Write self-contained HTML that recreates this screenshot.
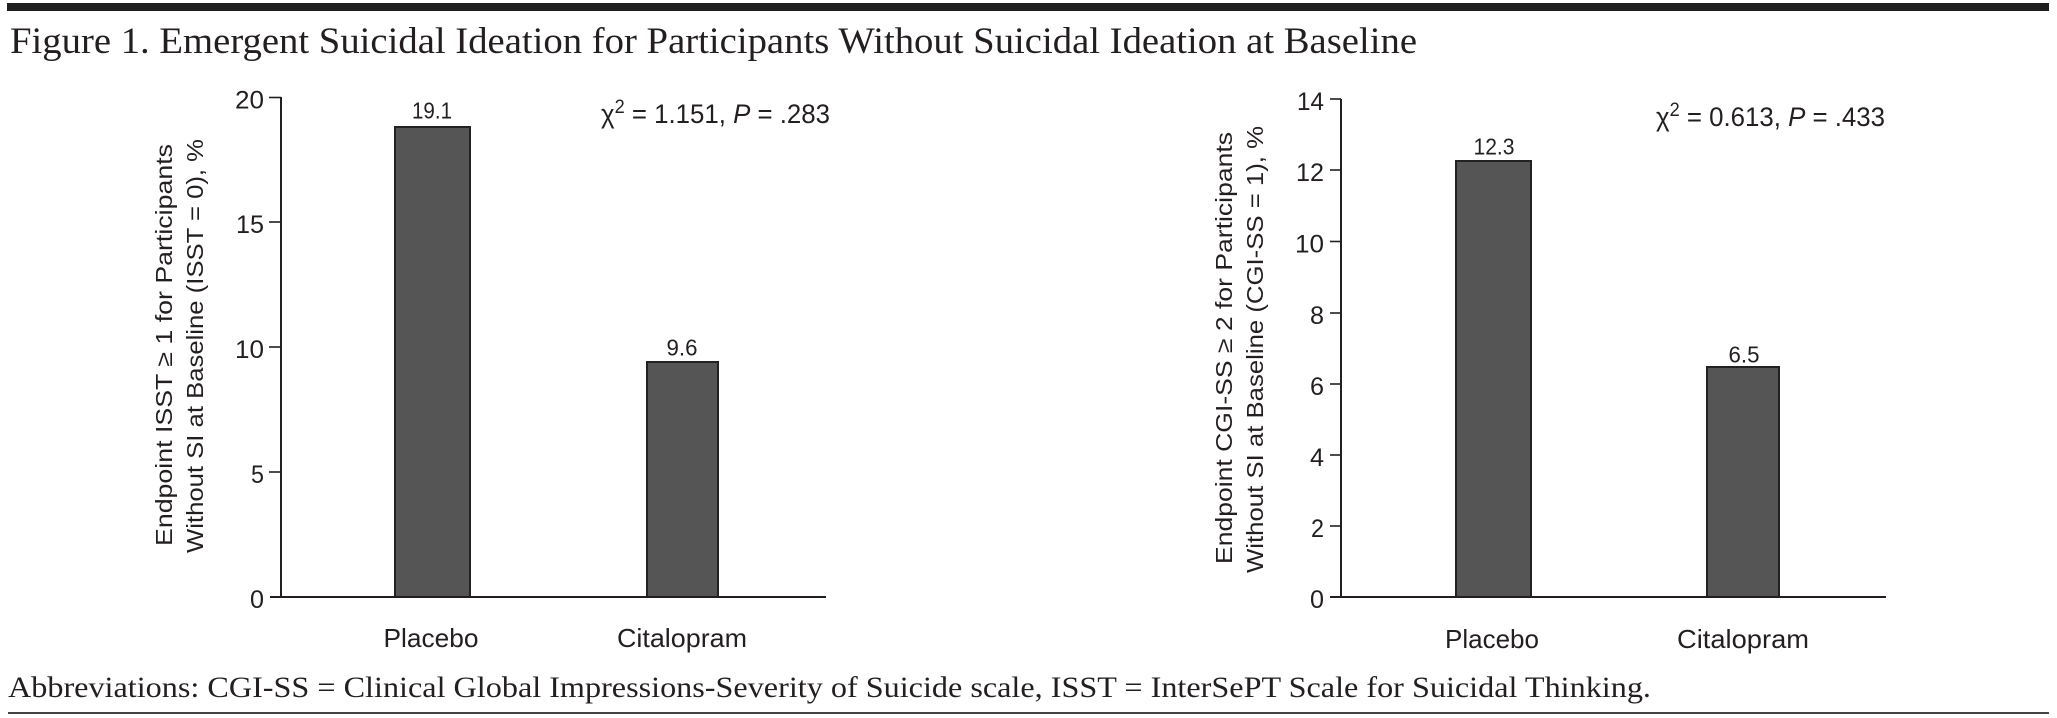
<!DOCTYPE html>
<html>
<head>
<meta charset="utf-8">
<style>
  html, body { margin:0; padding:0; background:#fff; }
  body { width:2057px; height:718px; overflow:hidden; }
  svg { display:block; }
  .serif { font-family:"Liberation Serif", serif; fill:#231f20; }
  .sans { font-family:"Liberation Sans", sans-serif; fill:#231f20; }
</style>
</head>
<body>
<svg width="2057" height="718" viewBox="0 0 2057 718" xmlns="http://www.w3.org/2000/svg">
  <rect x="0" y="0" width="2057" height="718" fill="#fff"/>
  <rect x="7" y="3" width="2042" height="8" fill="#1e1e1e"/>
  <text class="serif" x="10" y="53" font-size="37" textLength="1407" lengthAdjust="spacingAndGlyphs">Figure 1. Emergent Suicidal Ideation for Participants Without Suicidal Ideation at Baseline</text>

  <!-- ============ LEFT CHART ============ -->
  <g>
    <rect x="395" y="127" width="75" height="470" fill="#555555" stroke="#222" stroke-width="2"/>
    <rect x="647" y="362" width="71" height="235" fill="#555555" stroke="#222" stroke-width="2"/>
    <line x1="281" y1="97" x2="281" y2="598" stroke="#231f20" stroke-width="2"/>
    <line x1="270" y1="597" x2="826" y2="597" stroke="#231f20" stroke-width="2"/>
    <g stroke="#231f20" stroke-width="1.6">
      <line x1="269" y1="97.5" x2="281" y2="97.5"/>
      <line x1="269" y1="222" x2="281" y2="222"/>
      <line x1="269" y1="347" x2="281" y2="347"/>
      <line x1="269" y1="472" x2="281" y2="472"/>
    </g>
    <g class="sans" font-size="25" text-anchor="end">
      <text x="264" y="108.5" textLength="29" lengthAdjust="spacingAndGlyphs">20</text>
      <text x="264" y="233" textLength="28" lengthAdjust="spacingAndGlyphs">15</text>
      <text x="264" y="358" textLength="29" lengthAdjust="spacingAndGlyphs">10</text>
      <text x="264" y="483" textLength="13" lengthAdjust="spacingAndGlyphs">5</text>
      <text x="264" y="608" textLength="14" lengthAdjust="spacingAndGlyphs">0</text>
    </g>
    <g class="sans" font-size="23" text-anchor="middle">
      <text x="432" y="118.5" textLength="40" lengthAdjust="spacingAndGlyphs">19.1</text>
      <text x="682" y="355.5" textLength="31" lengthAdjust="spacingAndGlyphs">9.6</text>
    </g>
    <g class="sans" font-size="26" text-anchor="middle">
      <text x="431" y="647" textLength="95" lengthAdjust="spacingAndGlyphs">Placebo</text>
      <text x="682" y="647" textLength="130" lengthAdjust="spacingAndGlyphs">Citalopram</text>
    </g>
    <text class="sans" x="601" y="123" font-size="27" textLength="229" lengthAdjust="spacingAndGlyphs">χ<tspan font-size="19" dy="-10">2</tspan><tspan dy="10"> = 1.151, </tspan><tspan font-style="italic">P</tspan> = .283</text>
    <text class="sans" font-size="23" text-anchor="middle" transform="translate(172,345) rotate(-90)" textLength="402" lengthAdjust="spacingAndGlyphs">Endpoint ISST ≥ 1 for Participants</text>
    <text class="sans" font-size="23" text-anchor="middle" transform="translate(203,346) rotate(-90)" textLength="414" lengthAdjust="spacingAndGlyphs">Without SI at Baseline (ISST = 0), %</text>
  </g>

  <!-- ============ RIGHT CHART ============ -->
  <g>
    <rect x="1456" y="161" width="75" height="436" fill="#555555" stroke="#222" stroke-width="2"/>
    <rect x="1707" y="367" width="72" height="230" fill="#555555" stroke="#222" stroke-width="2"/>
    <line x1="1341" y1="99" x2="1341" y2="598" stroke="#231f20" stroke-width="2"/>
    <line x1="1330" y1="597" x2="1886" y2="597" stroke="#231f20" stroke-width="2"/>
    <g stroke="#231f20" stroke-width="1.6">
      <line x1="1330" y1="99" x2="1341" y2="99"/>
      <line x1="1330" y1="170" x2="1341" y2="170"/>
      <line x1="1330" y1="241.5" x2="1341" y2="241.5"/>
      <line x1="1330" y1="313" x2="1341" y2="313"/>
      <line x1="1330" y1="384" x2="1341" y2="384"/>
      <line x1="1330" y1="455" x2="1341" y2="455"/>
      <line x1="1330" y1="526" x2="1341" y2="526"/>
    </g>
    <g class="sans" font-size="25" text-anchor="end">
      <text x="1324" y="110" textLength="27" lengthAdjust="spacingAndGlyphs">14</text>
      <text x="1324" y="181" textLength="28" lengthAdjust="spacingAndGlyphs">12</text>
      <text x="1324" y="252.5" textLength="29" lengthAdjust="spacingAndGlyphs">10</text>
      <text x="1324" y="324" textLength="14" lengthAdjust="spacingAndGlyphs">8</text>
      <text x="1324" y="395" textLength="14" lengthAdjust="spacingAndGlyphs">6</text>
      <text x="1324" y="466" textLength="14" lengthAdjust="spacingAndGlyphs">4</text>
      <text x="1324" y="537" textLength="13" lengthAdjust="spacingAndGlyphs">2</text>
      <text x="1324" y="608" textLength="14" lengthAdjust="spacingAndGlyphs">0</text>
    </g>
    <g class="sans" font-size="23" text-anchor="middle">
      <text x="1494" y="154.5" textLength="41" lengthAdjust="spacingAndGlyphs">12.3</text>
      <text x="1744" y="362.5" textLength="31" lengthAdjust="spacingAndGlyphs">6.5</text>
    </g>
    <g class="sans" font-size="26" text-anchor="middle">
      <text x="1492" y="648" textLength="94" lengthAdjust="spacingAndGlyphs">Placebo</text>
      <text x="1743" y="648" textLength="132" lengthAdjust="spacingAndGlyphs">Citalopram</text>
    </g>
    <text class="sans" x="1656" y="126" font-size="27" textLength="229" lengthAdjust="spacingAndGlyphs">χ<tspan font-size="19" dy="-10">2</tspan><tspan dy="10"> = 0.613, </tspan><tspan font-style="italic">P</tspan> = .433</text>
    <text class="sans" font-size="23" text-anchor="middle" transform="translate(1232,348) rotate(-90)" textLength="432" lengthAdjust="spacingAndGlyphs">Endpoint CGI-SS ≥ 2 for Participants</text>
    <text class="sans" font-size="23" text-anchor="middle" transform="translate(1263,349.5) rotate(-90)" textLength="447" lengthAdjust="spacingAndGlyphs">Without SI at Baseline (CGI-SS = 1), %</text>
  </g>

  <text class="serif" x="8" y="697" font-size="30" textLength="1643" lengthAdjust="spacingAndGlyphs">Abbreviations: CGI-SS = Clinical Global Impressions-Severity of Suicide scale, ISST = InterSePT Scale for Suicidal Thinking.</text>
  <rect x="8" y="712" width="2041" height="2" fill="#444"/>
</svg>
</body>
</html>
